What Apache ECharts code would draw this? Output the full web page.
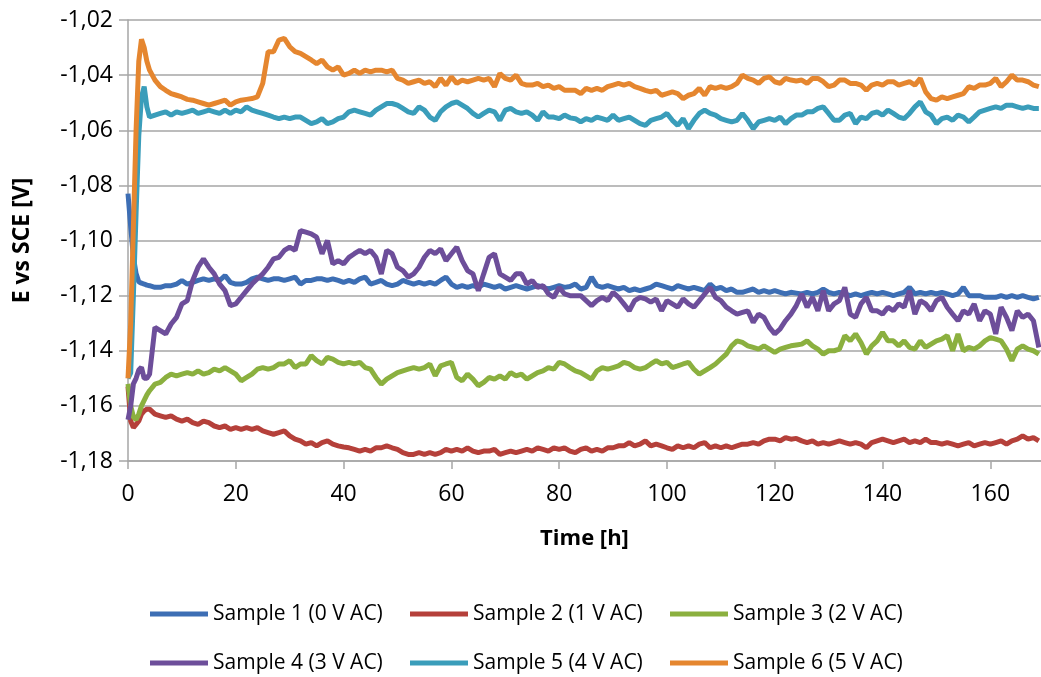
<!DOCTYPE html>
<html>
<head>
<meta charset="utf-8">
<script src="https://cdn.jsdelivr.net/npm/echarts@6/dist/echarts.min.js"></script>
<style>
  html, body { margin: 0; padding: 0; background: #fff; }
  #chart { width: 1041px; height: 677px; }
</style>
</head>
<body>
<div id="chart"></div>
<script>
// time base in hours (finer steps at the start)
var hours = [0, 0.5, 1, 1.5, 2, 2.5, 3, 3.5,
  4, 5, 6, 7, 8, 9, 10, 11, 12, 13, 14, 15, 16, 17, 18, 19, 20, 21, 22, 23,
  24, 25, 26, 27, 28, 29, 30, 31, 32, 33, 34, 35, 36, 37, 38, 39, 40, 41, 42, 43,
  44, 45, 46, 47, 48, 49, 50, 51, 52, 53, 54, 55, 56, 57, 58, 59, 60, 61, 62, 63,
  64, 65, 66, 67, 68, 69, 70, 71, 72, 73, 74, 75, 76, 77, 78, 79, 80, 81, 82, 83,
  84, 85, 86, 87, 88, 89, 90, 91, 92, 93, 94, 95, 96, 97, 98, 99, 100, 101, 102, 103,
  104, 105, 106, 107, 108, 109, 110, 111, 112, 113, 114, 115, 116, 117, 118, 119, 120, 121, 122, 123,
  124, 125, 126, 127, 128, 129, 130, 131, 132, 133, 134, 135, 136, 137, 138, 139, 140, 141, 142, 143,
  144, 145, 146, 147, 148, 149, 150, 151, 152, 153, 154, 155, 156, 157, 158, 159, 160, 161, 162, 163,
  164, 165, 166, 167, 168, 169]

var seriesNames = ['Sample 1 (0 V AC)', 'Sample 2 (1 V AC)', 'Sample 3 (2 V AC)',
  'Sample 4 (3 V AC)', 'Sample 5 (4 V AC)', 'Sample 6 (5 V AC)']

var sample1 = [-1.083, -1.095, -1.106, -1.112, -1.115, -1.1155, -1.1158, -1.1162,
  -1.1164, -1.1170, -1.1170, -1.1164, -1.1164, -1.1158, -1.1145, -1.1158, -1.1152, -1.1145,
  -1.1139, -1.1145, -1.1139, -1.1145, -1.1127, -1.1152, -1.1158, -1.1158, -1.1152, -1.1139,
  -1.1133, -1.1139, -1.1145, -1.1139, -1.1139, -1.1145, -1.1139, -1.1133, -1.1158, -1.1145,
  -1.1145, -1.1139, -1.1139, -1.1145, -1.1139, -1.1145, -1.1152, -1.1145, -1.1152, -1.1139,
  -1.1133, -1.1158, -1.1152, -1.1145, -1.1158, -1.1164, -1.1158, -1.1145, -1.1152, -1.1158,
  -1.1152, -1.1158, -1.1152, -1.1158, -1.1145, -1.1133, -1.1158, -1.1170, -1.1164, -1.1170,
  -1.1164, -1.1170, -1.1158, -1.1164, -1.1170, -1.1164, -1.1176, -1.1170, -1.1164, -1.1170,
  -1.1176, -1.1170, -1.1164, -1.1170, -1.1176, -1.1170, -1.1164, -1.1170, -1.1167, -1.1158,
  -1.1176, -1.1170, -1.1133, -1.1164, -1.1170, -1.1164, -1.1170, -1.1176, -1.1170, -1.1182,
  -1.1176, -1.1182, -1.1176, -1.1170, -1.1158, -1.1164, -1.1170, -1.1176, -1.1164, -1.1170,
  -1.1176, -1.1170, -1.1176, -1.1182, -1.1158, -1.1176, -1.1170, -1.1182, -1.1176, -1.1188,
  -1.1188, -1.1182, -1.1176, -1.1188, -1.1182, -1.1188, -1.1182, -1.1188, -1.1194, -1.1188,
  -1.1191, -1.1194, -1.1188, -1.1194, -1.1188, -1.1176, -1.1188, -1.1194, -1.1188, -1.1194,
  -1.1200, -1.1194, -1.1200, -1.1194, -1.1188, -1.1194, -1.1188, -1.1194, -1.1200, -1.1194,
  -1.1188, -1.1170, -1.1194, -1.1188, -1.1194, -1.1188, -1.1194, -1.1188, -1.1194, -1.1200,
  -1.1194, -1.1170, -1.1200, -1.1200, -1.1200, -1.1206, -1.1206, -1.1206, -1.1200, -1.1206,
  -1.1200, -1.1206, -1.1200, -1.1206, -1.1212, -1.1206]

var sample2 = [-1.153, -1.1655, -1.1679, -1.1667, -1.1655, -1.1630, -1.1618, -1.1612,
  -1.1612, -1.1630, -1.1636, -1.1642, -1.1636, -1.1648, -1.1655, -1.1648, -1.1661, -1.1667,
  -1.1655, -1.1661, -1.1673, -1.1679, -1.1673, -1.1685, -1.1679, -1.1685, -1.1679, -1.1685,
  -1.1679, -1.1691, -1.1697, -1.1703, -1.1697, -1.1691, -1.1709, -1.1721, -1.1727, -1.1739,
  -1.1733, -1.1745, -1.1733, -1.1727, -1.1739, -1.1745, -1.1749, -1.1752, -1.1758, -1.1764,
  -1.1758, -1.1764, -1.1752, -1.1752, -1.1745, -1.1752, -1.1758, -1.1770, -1.1776, -1.1776,
  -1.1770, -1.1776, -1.1770, -1.1776, -1.1770, -1.1758, -1.1764, -1.1758, -1.1764, -1.1752,
  -1.1764, -1.1770, -1.1764, -1.1764, -1.1758, -1.1776, -1.1770, -1.1764, -1.1770, -1.1764,
  -1.1758, -1.1764, -1.1752, -1.1758, -1.1764, -1.1752, -1.1758, -1.1752, -1.1764, -1.1770,
  -1.1758, -1.1752, -1.1764, -1.1758, -1.1764, -1.1752, -1.1752, -1.1745, -1.1745, -1.1733,
  -1.1745, -1.1739, -1.1727, -1.1745, -1.1739, -1.1745, -1.1752, -1.1758, -1.1745, -1.1752,
  -1.1745, -1.1752, -1.1739, -1.1733, -1.1752, -1.1745, -1.1752, -1.1745, -1.1752, -1.1745,
  -1.1739, -1.1739, -1.1733, -1.1739, -1.1727, -1.1721, -1.1721, -1.1727, -1.1715, -1.1721,
  -1.1718, -1.1727, -1.1733, -1.1727, -1.1739, -1.1733, -1.1739, -1.1733, -1.1727, -1.1733,
  -1.1739, -1.1733, -1.1739, -1.1752, -1.1733, -1.1727, -1.1721, -1.1727, -1.1733, -1.1727,
  -1.1721, -1.1733, -1.1727, -1.1733, -1.1721, -1.1733, -1.1733, -1.1739, -1.1733, -1.1739,
  -1.1745, -1.1739, -1.1733, -1.1745, -1.1739, -1.1733, -1.1739, -1.1733, -1.1727, -1.1739,
  -1.1727, -1.1721, -1.1709, -1.1721, -1.1715, -1.1727]

var sample3 = [-1.152, -1.160, -1.164, -1.165, -1.163, -1.160, -1.158, -1.156,
  -1.1545, -1.1521, -1.1515, -1.1497, -1.1485, -1.1491, -1.1485, -1.1479, -1.1485, -1.1473,
  -1.1485, -1.1479, -1.1467, -1.1473, -1.1461, -1.1473, -1.1485, -1.1509, -1.1497, -1.1485,
  -1.1467, -1.1461, -1.1467, -1.1461, -1.1448, -1.1448, -1.1436, -1.1461, -1.1448, -1.1448,
  -1.1418, -1.1436, -1.1448, -1.1424, -1.1430, -1.1442, -1.1448, -1.1442, -1.1448, -1.1442,
  -1.1461, -1.1467, -1.1497, -1.1521, -1.1503, -1.1491, -1.1479, -1.1473, -1.1467, -1.1461,
  -1.1467, -1.1461, -1.1448, -1.1491, -1.1455, -1.1448, -1.1442, -1.1497, -1.1509, -1.1485,
  -1.1503, -1.1527, -1.1515, -1.1497, -1.1503, -1.1491, -1.1503, -1.1479, -1.1491, -1.1485,
  -1.1503, -1.1491, -1.1479, -1.1473, -1.1461, -1.1467, -1.1442, -1.1448, -1.1461, -1.1473,
  -1.1479, -1.1491, -1.1503, -1.1473, -1.1461, -1.1467, -1.1461, -1.1455, -1.1442, -1.1448,
  -1.1461, -1.1467, -1.1461, -1.1448, -1.1436, -1.1448, -1.1442, -1.1461, -1.1455, -1.1448,
  -1.1442, -1.1467, -1.1485, -1.1473, -1.1461, -1.1448, -1.1430, -1.1412, -1.1382, -1.1364,
  -1.1370, -1.1382, -1.1388, -1.1394, -1.1382, -1.1394, -1.1406, -1.1394, -1.1388, -1.1382,
  -1.1379, -1.1376, -1.1364, -1.1382, -1.1394, -1.1412, -1.1400, -1.1400, -1.1394, -1.1345,
  -1.1364, -1.1339, -1.1370, -1.1412, -1.1382, -1.1364, -1.1333, -1.1364, -1.1364, -1.1382,
  -1.1364, -1.1388, -1.1394, -1.1364, -1.1388, -1.1376, -1.1364, -1.1358, -1.1345, -1.1400,
  -1.1339, -1.1400, -1.1388, -1.1394, -1.1382, -1.1364, -1.1352, -1.1358, -1.1364, -1.1394,
  -1.1436, -1.1394, -1.1382, -1.1394, -1.1400, -1.1412]

var sample4 = [-1.165, -1.160, -1.152, -1.150, -1.147, -1.146, -1.150, -1.150,
  -1.1485, -1.1315, -1.1327, -1.1339, -1.1303, -1.1279, -1.1230, -1.1218, -1.1145, -1.1097,
  -1.1067, -1.1097, -1.1121, -1.1158, -1.1182, -1.1236, -1.1230, -1.1206, -1.1182, -1.1158,
  -1.1139, -1.1121, -1.1097, -1.1067, -1.1061, -1.1036, -1.1024, -1.1036, -1.0964, -1.0970,
  -1.0976, -1.0988, -1.1048, -1.1000, -1.1085, -1.1073, -1.1085, -1.1061, -1.1048, -1.1036,
  -1.1048, -1.1036, -1.1061, -1.1121, -1.1036, -1.1048, -1.1097, -1.1109, -1.1133, -1.1121,
  -1.1097, -1.1061, -1.1036, -1.1048, -1.1030, -1.1073, -1.1048, -1.1024, -1.1073, -1.1109,
  -1.1121, -1.1182, -1.1121, -1.1061, -1.1048, -1.1121, -1.1133, -1.1145, -1.1121, -1.1121,
  -1.1158, -1.1145, -1.1170, -1.1164, -1.1194, -1.1206, -1.1170, -1.1194, -1.1200, -1.1200,
  -1.1200, -1.1218, -1.1236, -1.1218, -1.1206, -1.1218, -1.1188, -1.1206, -1.1230, -1.1255,
  -1.1218, -1.1206, -1.1212, -1.1224, -1.1212, -1.1255, -1.1218, -1.1230, -1.1242, -1.1212,
  -1.1230, -1.1242, -1.1218, -1.1194, -1.1170, -1.1206, -1.1218, -1.1242, -1.1255, -1.1267,
  -1.1261, -1.1255, -1.1297, -1.1267, -1.1279, -1.1315, -1.1339, -1.1321, -1.1291, -1.1267,
  -1.1236, -1.1194, -1.1242, -1.1206, -1.1255, -1.1182, -1.1255, -1.1230, -1.1218, -1.1170,
  -1.1267, -1.1279, -1.1230, -1.1206, -1.1255, -1.1255, -1.1267, -1.1242, -1.1255, -1.1230,
  -1.1242, -1.1182, -1.1267, -1.1218, -1.1230, -1.1255, -1.1218, -1.1206, -1.1242, -1.1267,
  -1.1291, -1.1255, -1.1267, -1.1230, -1.1291, -1.1255, -1.1267, -1.1339, -1.1242, -1.1279,
  -1.1327, -1.1255, -1.1279, -1.1267, -1.1291, -1.1388]

var sample5 = [-1.150, -1.148, -1.120, -1.090, -1.062, -1.048, -1.0442, -1.0515,
  -1.0552, -1.0545, -1.0539, -1.0533, -1.0545, -1.0533, -1.0539, -1.0533, -1.0527, -1.0539,
  -1.0533, -1.0527, -1.0533, -1.0539, -1.0527, -1.0539, -1.0527, -1.0533, -1.0515, -1.0527,
  -1.0533, -1.0539, -1.0545, -1.0552, -1.0558, -1.0552, -1.0558, -1.0552, -1.0552, -1.0564,
  -1.0576, -1.0570, -1.0558, -1.0576, -1.0570, -1.0558, -1.0552, -1.0533, -1.0527, -1.0533,
  -1.0539, -1.0545, -1.0527, -1.0515, -1.0503, -1.0503, -1.0509, -1.0521, -1.0533, -1.0539,
  -1.0515, -1.0527, -1.0552, -1.0564, -1.0533, -1.0515, -1.0503, -1.0497, -1.0509, -1.0521,
  -1.0539, -1.0552, -1.0539, -1.0527, -1.0533, -1.0564, -1.0527, -1.0521, -1.0533, -1.0539,
  -1.0533, -1.0545, -1.0564, -1.0533, -1.0552, -1.0552, -1.0558, -1.0545, -1.0555, -1.0558,
  -1.0570, -1.0558, -1.0564, -1.0552, -1.0558, -1.0564, -1.0545, -1.0564, -1.0558, -1.0552,
  -1.0564, -1.0576, -1.0582, -1.0564, -1.0558, -1.0552, -1.0539, -1.0564, -1.0582, -1.0558,
  -1.0594, -1.0564, -1.0539, -1.0527, -1.0539, -1.0545, -1.0558, -1.0564, -1.0570, -1.0564,
  -1.0539, -1.0564, -1.0594, -1.0570, -1.0564, -1.0558, -1.0564, -1.0552, -1.0576, -1.0558,
  -1.0545, -1.0545, -1.0533, -1.0533, -1.0521, -1.0515, -1.0539, -1.0564, -1.0564, -1.0545,
  -1.0539, -1.0576, -1.0552, -1.0558, -1.0539, -1.0533, -1.0545, -1.0527, -1.0539, -1.0552,
  -1.0558, -1.0539, -1.0515, -1.0497, -1.0533, -1.0545, -1.0576, -1.0558, -1.0552, -1.0564,
  -1.0545, -1.0552, -1.0570, -1.0552, -1.0533, -1.0527, -1.0521, -1.0515, -1.0521, -1.0509,
  -1.0509, -1.0515, -1.0521, -1.0515, -1.0521, -1.0521]

var sample6 = [-1.150, -1.130, -1.095, -1.060, -1.035, -1.027, -1.030, -1.035,
  -1.0382, -1.0418, -1.0442, -1.0455, -1.0467, -1.0473, -1.0479, -1.0488, -1.0491, -1.0497,
  -1.0503, -1.0509, -1.0503, -1.0497, -1.0491, -1.0509, -1.0497, -1.0491, -1.0488, -1.0485,
  -1.0479, -1.0430, -1.0315, -1.0315, -1.0273, -1.0267, -1.0297, -1.0315, -1.0321, -1.0333,
  -1.0345, -1.0358, -1.0345, -1.0370, -1.0382, -1.0370, -1.0400, -1.0394, -1.0382, -1.0394,
  -1.0382, -1.0388, -1.0382, -1.0382, -1.0388, -1.0382, -1.0412, -1.0418, -1.0430, -1.0424,
  -1.0418, -1.0430, -1.0424, -1.0442, -1.0412, -1.0436, -1.0406, -1.0430, -1.0418, -1.0424,
  -1.0418, -1.0412, -1.0418, -1.0412, -1.0442, -1.0394, -1.0412, -1.0418, -1.0400, -1.0430,
  -1.0436, -1.0436, -1.0430, -1.0442, -1.0436, -1.0448, -1.0442, -1.0455, -1.0455, -1.0455,
  -1.0467, -1.0448, -1.0455, -1.0448, -1.0455, -1.0442, -1.0436, -1.0430, -1.0436, -1.0430,
  -1.0442, -1.0448, -1.0455, -1.0461, -1.0455, -1.0473, -1.0467, -1.0461, -1.0467, -1.0485,
  -1.0473, -1.0467, -1.0448, -1.0473, -1.0442, -1.0448, -1.0442, -1.0448, -1.0442, -1.0430,
  -1.0400, -1.0412, -1.0418, -1.0430, -1.0412, -1.0406, -1.0424, -1.0430, -1.0412, -1.0418,
  -1.0421, -1.0418, -1.0430, -1.0412, -1.0412, -1.0424, -1.0442, -1.0436, -1.0418, -1.0418,
  -1.0430, -1.0430, -1.0436, -1.0455, -1.0436, -1.0430, -1.0436, -1.0424, -1.0424, -1.0436,
  -1.0430, -1.0424, -1.0436, -1.0412, -1.0461, -1.0485, -1.0491, -1.0479, -1.0485, -1.0479,
  -1.0473, -1.0467, -1.0442, -1.0448, -1.0436, -1.0436, -1.0430, -1.0412, -1.0442, -1.0424,
  -1.0400, -1.0418, -1.0418, -1.0424, -1.0436, -1.0442]

var yTicks = [-1.18, -1.16, -1.14, -1.12, -1.10, -1.08, -1.06, -1.04, -1.02]

var allSeries = [sample1, sample2, sample3, sample4, sample5, sample6]
var colors = ['#3D6EB4', '#B5403A', '#8BB03F', '#6D4E9A', '#3A9DBA', '#E5862F']

var fontName = '"Open Sans", "Liberation Sans", sans-serif'

var chart = echarts.init(document.getElementById('chart'))

var legendBase = function (names, top) {
  return {
    data: names,
    left: 145,
    top: top,
    padding: 5,
    orient: 'horizontal',
    icon: 'rect',
    itemWidth: 58,
    itemHeight: 5,
    itemGap: 2,
    itemTextGap: 3,
    itemStyle: { borderWidth: 0 },
    textStyle: {
      fontFamily: fontName,
      fontSize: 21,
      color: '#000',
      width: 195,
      lineHeight: 26
    }
  }
}

chart.setOption({
  animation: false,
  backgroundColor: '#fff',
  color: colors,
  grid: {
    left: 128,
    right: 0,
    top: 20,
    bottom: 216
  },
  legend: [
    legendBase(seriesNames.slice(0, 3), 596),
    legendBase(seriesNames.slice(3, 6), 645)
  ],
  xAxis: {
    type: 'value',
    min: 0,
    max: 169.4,
    interval: 20,
    name: 'Time [h]',
    nameLocation: 'middle',
    nameGap: 67,
    nameTextStyle: {
      fontFamily: fontName,
      fontSize: 22,
      fontWeight: 'bold',
      color: '#000'
    },
    axisLine: { lineStyle: { color: '#A6A6A6', width: 1.5 } },
    axisTick: { show: true, length: 8, lineStyle: { color: '#A6A6A6', width: 1.5 } },
    axisLabel: {
      fontFamily: fontName,
      fontSize: 23,
      color: '#000',
      margin: 22,
      showMaxLabel: false
    },
    splitLine: { show: false }
  },
  yAxis: {
    type: 'value',
    min: yTicks[0],
    max: yTicks[yTicks.length - 1],
    interval: 0.02,
    name: 'E vs SCE [V]',
    nameLocation: 'middle',
    nameRotate: 90,
    nameGap: 94,
    nameTextStyle: {
      fontFamily: fontName,
      fontSize: 23,
      fontWeight: 'bold',
      color: '#000'
    },
    axisLine: { show: true, lineStyle: { color: '#A6A6A6', width: 1.5 } },
    axisTick: { show: true, length: 9, lineStyle: { color: '#A6A6A6', width: 1.5 } },
    axisLabel: {
      fontFamily: fontName,
      fontSize: 23,
      color: '#000',
      margin: 15,
      formatter: function (v) {
        return v.toFixed(2).replace('.', ',')
      }
    },
    splitLine: { show: true, lineStyle: { color: '#A6A6A6', width: 1.5 } }
  },
  series: allSeries.map(function (vals, k) {
    return {
      name: seriesNames[k],
      type: 'line',
      showSymbol: false,
      symbol: 'none',
      smooth: false,
      lineStyle: { width: 5, color: colors[k] },
      itemStyle: { color: colors[k] },
      data: hours.map(function (h, i) { return [h, vals[i]] })
    }
  })
})
</script>
</body>
</html>
